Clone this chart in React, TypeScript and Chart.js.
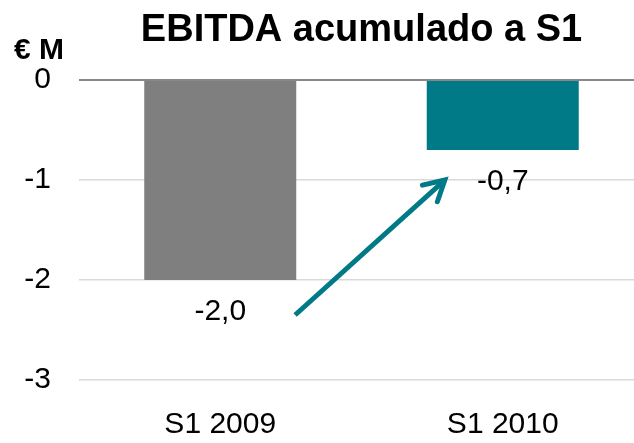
import React, { useEffect, useRef } from 'react';
import { Chart, registerables } from 'chart.js';

Chart.register(...registerables);

const categories = ['S1 2009', 'S1 2010'];
const ebitdaValues = [-2.0, -0.7];
const barColors = ['#7f7f7f', '#007a87'];
const yTickValues = [0, -1, -2, -3];
const titleText = 'EBITDA acumulado a S1';
const unitText = '€ M';
// arrow annotation in data terms: category position (index units) and value
const arrowFrom = [0.265, -2.35];
const arrowTo = [0.795, -1.0];

const FONT = '"Liberation Sans", Arial, sans-serif';

const overlayPlugin = {
  id: 'overlay',
  afterDatasetsDraw(chart: any) {
    const ctx = chart.ctx as CanvasRenderingContext2D;
    const area = chart.chartArea;
    const xs = chart.scales.x;
    const ys = chart.scales.y;
    ctx.save();

    // data labels under bars
    const meta = chart.getDatasetMeta(0);
    ctx.fillStyle = '#000';
    ctx.textAlign = 'center';
    ctx.textBaseline = 'middle';
    ctx.font = `30px ${FONT}`;
    meta.data.forEach((bar: any, i: number) => {
      const txt = ebitdaValues[i].toFixed(1).replace('.', ',');
      ctx.fillText(txt, bar.x, bar.y + 32);
    });

    // arrow
    const x0 = xs.getPixelForValue(0);
    const step = xs.getPixelForValue(1) - x0;
    const sx = x0 + arrowFrom[0] * step;
    const sy = ys.getPixelForValue(arrowFrom[1]);
    const ex = x0 + arrowTo[0] * step;
    const ey = ys.getPixelForValue(arrowTo[1]);
    const ang = Math.atan2(ey - sy, ex - sx);
    ctx.strokeStyle = '#007a87';
    ctx.lineWidth = 5;
    ctx.lineCap = 'butt';
    ctx.beginPath();
    ctx.moveTo(sx, sy);
    ctx.lineTo(ex - Math.cos(ang) * 2, ey - Math.sin(ang) * 2);
    ctx.stroke();
    const headLen = 23;
    const headAng = (29 * Math.PI) / 180;
    ctx.lineJoin = 'miter';
    ctx.lineCap = 'round';
    ctx.beginPath();
    ctx.moveTo(ex - headLen * Math.cos(ang - headAng), ey - headLen * Math.sin(ang - headAng));
    ctx.lineTo(ex, ey);
    ctx.lineTo(ex - headLen * Math.cos(ang + headAng), ey - headLen * Math.sin(ang + headAng));
    ctx.stroke();

    // title
    ctx.fillStyle = '#000';
    ctx.textAlign = 'center';
    ctx.textBaseline = 'middle';
    ctx.font = `bold 38px ${FONT}`;
    ctx.fillText(titleText, (area.left + area.right) / 2, 31);

    // unit label
    ctx.textAlign = 'left';
    ctx.font = `bold 30px ${FONT}`;
    ctx.fillText(unitText, 14, 51);

    ctx.restore();
  },
};

export default function App() {
  const canvasRef = useRef<HTMLCanvasElement | null>(null);

  useEffect(() => {
    const canvas = canvasRef.current;
    if (!canvas) return;
    const chart = new Chart(canvas, {
      type: 'bar',
      data: {
        labels: categories,
        datasets: [
          {
            data: ebitdaValues,
            backgroundColor: barColors,
            borderWidth: 0,
            barPercentage: 1,
            categoryPercentage: 0.538,
          },
        ],
      },
      options: {
        responsive: false,
        animation: false,
        devicePixelRatio: 1,
        layout: { padding: { top: 80, right: 6, left: 0, bottom: 0 } },
        plugins: {
          legend: { display: false },
          title: { display: false },
          tooltip: { enabled: false },
        },
        scales: {
          x: {
            grid: { display: false, drawTicks: false },
            border: { display: false },
            ticks: {
              padding: 27,
              color: '#000',
              font: { family: FONT, size: 30 },
              maxRotation: 0,
            },
            afterFit: (s: any) => {
              s.height = 63;
            },
          },
          y: {
            min: -3,
            max: 0,
            afterBuildTicks: (s: any) => {
              s.ticks = yTickValues.map((v) => ({ value: v }));
            },
            grid: {
              drawTicks: false,
              color: (c: any) => (c.tick && c.tick.value === 0 ? '#888888' : '#d9d9d9'),
              lineWidth: (c: any) => (c.tick && c.tick.value === 0 ? 2 : 1.5),
            },
            border: { display: false },
            ticks: {
              padding: 28,
              color: '#000',
              font: { family: FONT, size: 30 },
              callback: (v: any) => String(v),
            },
            afterFit: (s: any) => {
              s.width = 79;
            },
          },
        },
      },
      plugins: [overlayPlugin],
    });
    return () => chart.destroy();
  }, []);

  return (
    <div
      style={{
        position: 'fixed',
        left: 0,
        top: 0,
        width: 634,
        height: 443,
        overflow: 'hidden',
        background: '#fff',
      }}
    >
      <canvas ref={canvasRef} width={650} height={443} style={{ display: 'block' }} />
    </div>
  );
}
